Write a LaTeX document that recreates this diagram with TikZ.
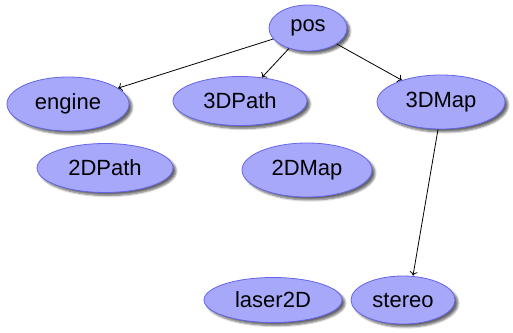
\documentclass[tikz,border=0pt]{standalone}
\usepackage{fontspec}
\setmainfont{Liberation Sans}
\usetikzlibrary{shapes.geometric,shadows.blur,arrows.meta}
\definecolor{nodefill}{RGB}{168,168,250}
\definecolor{nodeline}{RGB}{100,100,235}
\tikzset{
  ell/.style={ellipse, draw=nodeline, fill=nodefill, line width=0.8pt,
    inner sep=0pt, font=\fontsize{22}{26}\selectfont,
    blur shadow={shadow xshift=3pt, shadow yshift=-3pt, shadow blur steps=6, shadow opacity=60}},
  link/.style={-{To[length=4pt,width=8pt]}, black, line width=0.8pt}
}
\begin{document}
\begin{tikzpicture}[x=1pt,y=1pt]
  \useasboundingbox (0,0) rectangle (513,332);
  \node[ell, minimum width=78pt,  minimum height=46pt] (pos)     at (308,304) {pos};
  \node[ell, minimum width=122pt, minimum height=54pt] (engine)  at (68,228)  {engine};
  \node[ell, minimum width=136pt, minimum height=49pt] (p2d)     at (105,164) {2DPath};
  \node[ell, minimum width=134pt, minimum height=49pt] (p3d)     at (240,231) {3DPath};
  \node[ell, minimum width=130pt, minimum height=54pt] (m2d)     at (307,162) {2DMap};
  \node[ell, minimum width=128pt, minimum height=54pt] (m3d)     at (441,230) {3DMap};
  \node[ell, minimum width=138pt, minimum height=45pt] (laser)   at (273,32)  {laser2D};
  \node[ell, minimum width=104pt, minimum height=48pt] (stereo)  at (403,32)  {stereo};
  \draw[link] (pos) -- (engine);
  \draw[link] (pos) -- (p3d);
  \draw[link] (pos) -- (m3d);
  \draw[link] ([xshift=-3pt]m3d.south) -- ([xshift=10pt]stereo.north);
\end{tikzpicture}
\end{document}
